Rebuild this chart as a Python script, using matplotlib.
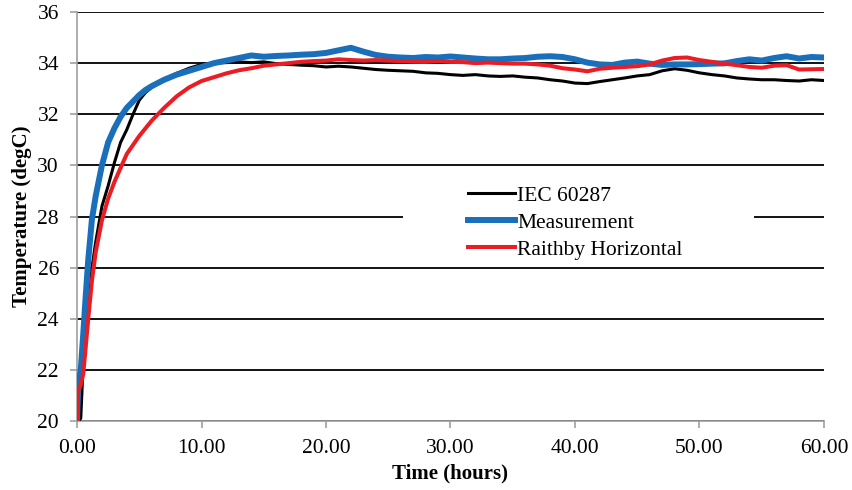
import matplotlib
matplotlib.use('Agg')
from matplotlib import pyplot as plt
from matplotlib.patches import Rectangle

plt.rcParams['font.family'] = 'Liberation Serif'

# time in hours
time = [0, 0.1, 0.3, 0.5, 0.7, 0.9, 1.2, 1.5, 2.0, 2.5, 3.0, 3.5, 4.0, 4.5, 5.0, 5.5,
        6, 7, 8, 9, 10, 11, 12, 13, 14, 15, 16, 17, 18, 19, 20,
        21, 22, 23, 24, 25, 26, 27, 28, 29, 30, 31, 32, 33, 34, 35,
        36, 37, 38, 39, 40, 41, 42, 43, 44, 45, 46, 47, 48, 49, 50,
        51, 52, 53, 54, 55, 56, 57, 58, 59, 60]

iec = [20.0, 20.0, 20.1, 22.3, 23.2, 24.1, 26.0, 27.0, 28.4, 29.2, 30.1, 30.9, 31.4, 32.0, 32.55, 32.85,
       33.05, 33.35, 33.6, 33.8, 33.95, 34.0, 34.02, 34.05, 34.02, 34.05, 33.98, 33.95, 33.92, 33.9, 33.85,
       33.88, 33.85, 33.8, 33.75, 33.72, 33.7, 33.68, 33.62, 33.6, 33.55, 33.52, 33.55, 33.5, 33.48, 33.5,
       33.45, 33.42, 33.35, 33.3, 33.22, 33.2, 33.28, 33.35, 33.42, 33.5, 33.55, 33.7, 33.78, 33.72, 33.62,
       33.55, 33.5, 33.42, 33.38, 33.35, 33.35, 33.32, 33.3, 33.35, 33.32]

measurement = [20.0, 21.4, 22.0, 23.4, 24.9, 26.3, 27.9, 28.8, 30.0, 30.9, 31.45, 31.9, 32.25, 32.5, 32.75, 32.95,
               33.1, 33.35, 33.55, 33.7, 33.85, 34.0, 34.1, 34.2, 34.3, 34.25, 34.28, 34.3, 34.33, 34.35, 34.4,
               34.5, 34.6, 34.45, 34.32, 34.25, 34.22, 34.2, 34.24, 34.22, 34.26, 34.22, 34.18, 34.15, 34.15, 34.18,
               34.2, 34.25, 34.27, 34.24, 34.15, 34.02, 33.95, 33.93, 34.02, 34.06, 33.98, 33.93, 33.95, 33.95, 33.96,
               33.98, 33.99, 34.08, 34.15, 34.1, 34.2, 34.27, 34.18, 34.24, 34.22]

raithby = [20.0, 21.2, 21.4, 21.85, 22.9, 24.0, 25.5, 26.6, 27.85, 28.7, 29.35, 29.9, 30.45, 30.8, 31.15, 31.45,
           31.75, 32.25, 32.7, 33.05, 33.3, 33.45, 33.6, 33.72, 33.8, 33.9, 33.95, 34.0, 34.05, 34.08, 34.1,
           34.15, 34.12, 34.1, 34.12, 34.1, 34.08, 34.06, 34.05, 34.08, 34.05, 34.04, 34.0, 34.02, 34.0, 33.98,
           33.98, 33.95, 33.9, 33.8, 33.75, 33.68, 33.78, 33.82, 33.85, 33.88, 33.95, 34.1, 34.2, 34.22, 34.12,
           34.05, 33.98, 33.92, 33.85, 33.82, 33.9, 33.92, 33.75, 33.76, 33.77]

x_ticks = [0, 10, 20, 30, 40, 50, 60]
y_ticks = [20, 22, 24, 26, 28, 30, 32, 34, 36]

fig = plt.figure(figsize=(8.52, 4.9), dpi=100)
ax = fig.add_axes([0.0904, 0.1408, 0.8767, 0.8347])

ax.plot(time, iec, color='black', lw=2.2, label='IEC 60287', zorder=3)
ax.plot(time, measurement, color='#1a6fba', lw=4.3, label='Measurement', zorder=3)
ax.plot(time, raithby, color='#ec1c24', lw=2.9, label='Raithby Horizontal', zorder=3)

ax.set_xlim(0, 60)
ax.set_ylim(20, 36)
ax.set_xticks(x_ticks)
ax.set_xticklabels(['%.2f' % x for x in x_ticks])
ax.set_yticks(y_ticks)
ax.set_yticklabels(['%d' % y for y in y_ticks])
ax.tick_params(labelsize=15.5, colors='#a0a0a0', labelcolor='black', length=5, width=1.2, pad=8)

ax.set_axisbelow(True)
ax.yaxis.grid(True, color='black', lw=1.3)
for side in ['top', 'right']:
    ax.spines[side].set_visible(False)
for side in ['left', 'bottom']:
    ax.spines[side].set_color('#a0a0a0')
    ax.spines[side].set_linewidth(1.2)

ax.set_xlabel('Time (hours)', fontsize=15, fontweight='bold', labelpad=4)
ax.set_ylabel('Temperature (degC)', fontsize=15, fontweight='bold', labelpad=4)

# white box behind the legend, hiding the gridline
ax.add_patch(Rectangle((0.4364, 0.389), 0.47, 0.212, transform=ax.transAxes,
                       facecolor='white', edgecolor='none', zorder=1))
ax.legend(loc='upper left', bbox_to_anchor=(0.5234, 0.575), frameon=False,
          fontsize=15.5, handlelength=2.2, handletextpad=0.1, labelspacing=0.32,
          borderpad=0, borderaxespad=0)

plt.savefig('out.png', dpi=100)
